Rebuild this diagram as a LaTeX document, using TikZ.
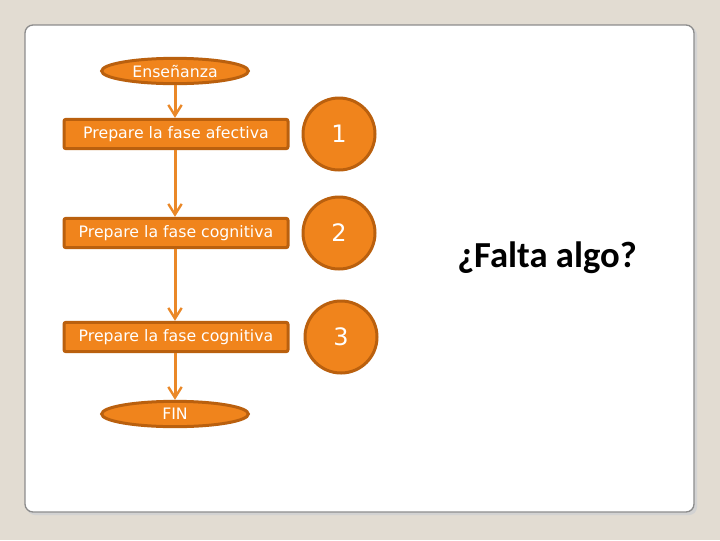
\documentclass[tikz,border=0pt]{standalone}
\usepackage{fontspec}
\usetikzlibrary{shapes.geometric,arrows.meta}
\newfontfamily\verd{DejaVu Sans}
\newfontfamily\calib{Carlito}
\definecolor{fondo}{RGB}{226,220,210}
\definecolor{naranja}{RGB}{240,132,28}
\definecolor{borde}{RGB}{186,96,14}
\definecolor{flecha}{RGB}{234,136,40}

\begin{document}
\begin{tikzpicture}[x=0.75pt,y=-0.75pt]
                        \tikzstyle{inicio}=[ellipse,draw=borde,fill=naranja,line width=2.25pt,minimum width=110pt,minimum height=19pt,inner sep=0pt,text=white,font=\verd\fontsize{11.8}{13}\selectfont]
                        \tikzstyle{paso}=[rectangle,rounded corners=1.5pt,draw=borde,fill=naranja,line width=2.25pt,minimum width=168pt,minimum height=22pt,inner sep=0pt,text=white,font=\verd\fontsize{11.8}{13}\selectfont]
                        \tikzstyle{numero}=[circle,draw=borde,fill=naranja,line width=2.25pt,minimum size=54pt,inner sep=0pt,text=white,font=\verd\fontsize{18}{20}\selectfont]
                        \tikzstyle{flujo}=[draw=flecha,line width=2.25pt,-{Straight Barb[length=8pt,width=10pt,line width=1.8pt]}]
                        % fondo y panel
                        \fill[fondo] (0,0) rectangle (720,540);
                        \fill[gray!35] (27,27) [rounded corners=6pt] rectangle (697,515);
                        \draw[gray!90,line width=1pt,fill=white,rounded corners=6pt] (25,25) rectangle (694,512);
                        % diagrama
                        \node[inicio] (ini) at (175,71) {Enseñanza};
                        \node[paso] (p1) at (176,134) {Prepare la fase afectiva};
                        \node[paso] (p2) at (176,233) {Prepare la fase cognitiva};
                        \node[paso] (p3) at (176,337) {Prepare la fase cognitiva};
                        \node[inicio] (fin) at (175,414) {FIN};
                        \node[numero] (n1) at (339,134) {1};
                        \node[numero] (n2) at (339,233) {2};
                        \node[numero] (n3) at (341,337) {3};
                        \draw[flujo] (ini.south) -- (ini.south |- p1.north);
                        \draw[flujo] (p1.south -| ini.south) -- (ini.south |- p2.north);
                        \draw[flujo] (p2.south -| ini.south) -- (ini.south |- p3.north);
                        \draw[flujo] (p3.south -| ini.south) -- (fin.north);
                        \node[font=\calib\bfseries\fontsize{27.5}{30}\selectfont] (pregunta) at (547,258) {¿Falta algo?};
                    \end{tikzpicture}
\end{document}
